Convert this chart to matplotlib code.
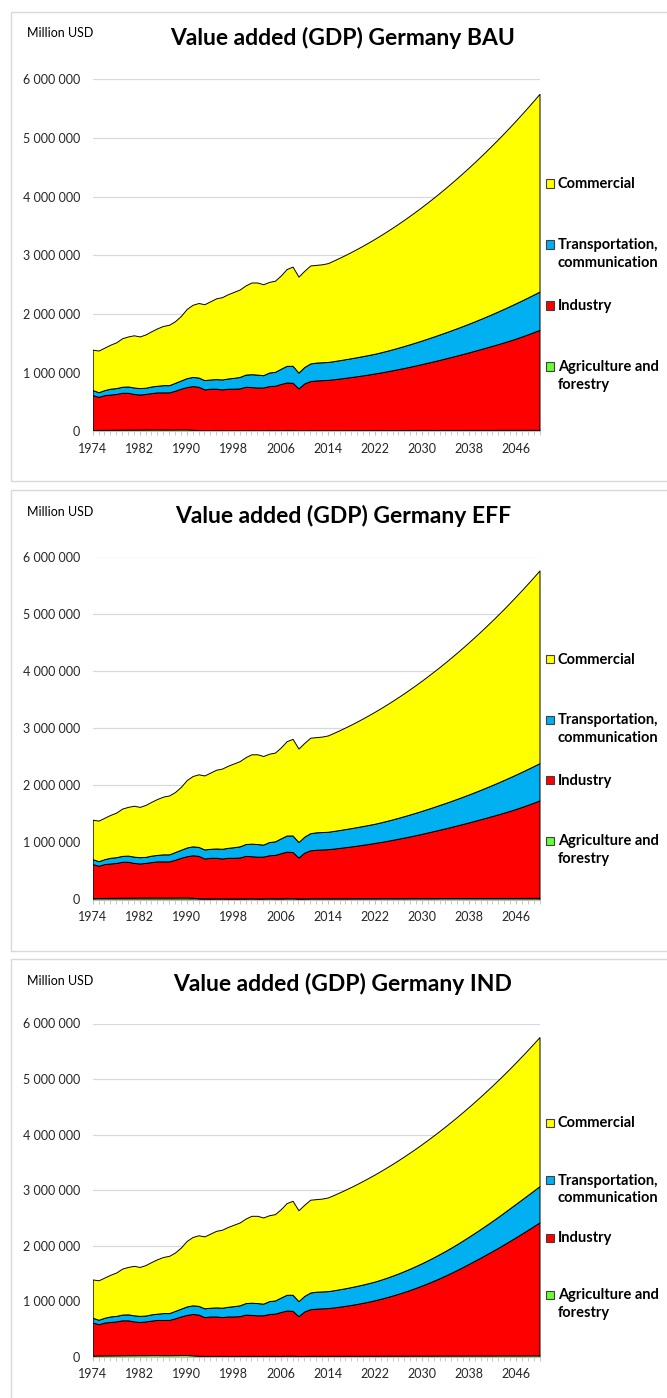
import numpy as np
import matplotlib.pyplot as plt
from matplotlib.patches import Rectangle
from matplotlib.ticker import FuncFormatter, MultipleLocator

plt.rcParams['font.family'] = ['Lato', 'DejaVu Sans']

W, H = 667, 1398
UNIT = 1000  # series below are in billion USD, axis is in million USD

years = list(range(1974, 2051))

# 1974-2014 (historical, same in every scenario)
agri_hist = [25, 27, 28, 29, 30, 31,
             32, 32, 33, 33, 34, 34, 33, 33, 34, 35, 35, 30,
             22, 20, 20, 21, 21, 20, 20, 20, 21, 22, 20, 20, 23, 21, 21, 24,
             24, 19, 20, 22, 22, 22, 22]
industry_hist = [595, 563, 592, 601, 610, 629, 628, 608, 597, 607,
                 621, 633, 634, 634, 661, 695, 722, 744, 741, 697,
                 710, 709, 696, 710, 710, 715, 742, 735, 730, 730,
                 751, 759, 789, 812, 806, 716, 800, 838, 848, 853,
                 858]
transport_hist = [86, 80, 86, 100, 100, 103, 108, 110, 110, 106,
                  113, 113, 123, 123, 135, 140, 153, 156, 157, 159,
                  157, 163, 170, 174, 185, 195, 207, 220, 220, 210,
                  231, 237, 260, 284, 290, 270, 280, 300, 305, 305,
                  305]
commercial_hist = [689, 710, 724, 750, 780, 827, 852, 890, 880, 909,
                   942, 980, 1010, 1030, 1050, 1100, 1180, 1230, 1270, 1294,
                   1333, 1377, 1403, 1436, 1465, 1490, 1520, 1563, 1570, 1550,
                   1545, 1553, 1590, 1650, 1690, 1635, 1640, 1670, 1665, 1670,
                   1685]

# 2015-2050 projections
agri_proj = [22, 22, 22, 23, 23, 23, 23, 23, 24, 24,
             24, 24, 24, 25, 25, 25, 25, 25, 26, 26,
             26, 26, 26, 27, 27, 27, 27, 27, 28, 28,
             28, 28, 28, 29, 29, 29]
transport_proj = [309, 313, 317, 321, 325, 329, 333, 336, 343, 350,
                  358, 366, 375, 384, 393, 402, 412, 422, 433, 443,
                  454, 465, 477, 489, 502, 515, 529, 543, 558, 573,
                  588, 602, 615, 628, 640, 652]
industry_bau_proj = [869, 881, 894, 906, 920, 935, 950, 967, 983, 1001,
                     1020, 1040, 1060, 1080, 1102, 1125, 1148, 1172, 1195, 1220,
                     1245, 1271, 1297, 1323, 1350, 1378, 1406, 1435, 1463, 1493,
                     1524, 1557, 1592, 1627, 1665, 1704]
commercial_bau_proj = [1715, 1746, 1778, 1812, 1847, 1883, 1921, 1960, 1997, 2035,
                       2073, 2112, 2152, 2193, 2235, 2278, 2322, 2367, 2413, 2461,
                       2510, 2560, 2611, 2663, 2716, 2770, 2825, 2881, 2938, 2996,
                       3056, 3117, 3179, 3242, 3306, 3371]
industry_ind_proj = [870, 884, 899, 915, 933, 953, 975, 999, 1024, 1052,
                     1082, 1114, 1148, 1183, 1221, 1261, 1303, 1347, 1392, 1440,
                     1490, 1542, 1596, 1650, 1706, 1763, 1821, 1880, 1939, 2001,
                     2064, 2128, 2193, 2258, 2325, 2393]
commercial_ind_proj = [1714, 1743, 1773, 1803, 1834, 1865, 1896, 1928, 1956, 1984,
                       2011, 2038, 2064, 2090, 2116, 2142, 2167, 2192, 2216, 2241,
                       2265, 2289, 2312, 2336, 2360, 2385, 2410, 2436, 2462, 2488,
                       2516, 2546, 2578, 2611, 2646, 2682]

scenarios = ['BAU', 'EFF', 'IND']
industry_proj = {'BAU': industry_bau_proj, 'EFF': industry_bau_proj, 'IND': industry_ind_proj}
commercial_proj = {'BAU': commercial_bau_proj, 'EFF': commercial_bau_proj, 'IND': commercial_ind_proj}

sectors = ['Agriculture and\nforestry', 'Industry', 'Transportation,\ncommunication', 'Commercial']
colors = ['#66FF33', '#FF0000', '#00B0F0', '#FFFF00']

# pixel layout per panel: frame top/bottom, y of 6 000 000 and 0, legend first row y, legend step
layout = {
    'BAU': dict(ft=11.5, fb=481, ytop=79.5, ybot=431.5, title=38, unit=33, leg=183.5, step=61),
    'EFF': dict(ft=490, fb=951, ytop=556.5, ybot=899.5, title=516, unit=512, leg=659, step=60.5),
    'IND': dict(ft=959, fb=1430, ytop=1023.5, ybot=1357, title=984, unit=981, leg=1122.5, step=57.5),
}
X0, X1 = 92.7, 539.5


def fy(y):
    return 1 - y / H


def space_fmt(v, pos):
    return '{:,}'.format(int(round(v))).replace(',', ' ')


fig = plt.figure(figsize=(W / 100, H / 100), dpi=100)

for sc in scenarios:
    L = layout[sc]
    fig.add_artist(Rectangle((10.5 / W, fy(L['fb'])), 700 / W, (L['fb'] - L['ft']) / H,
                             transform=fig.transFigure, fill=False, ec='#d9d9d9', lw=1))

    ax = fig.add_axes([X0 / W, fy(L['ybot']), (X1 - X0) / W, (L['ybot'] - L['ytop']) / H])
    agri = np.array(agri_hist + agri_proj) * UNIT
    ind = np.array(industry_hist + industry_proj[sc]) * UNIT
    tra = np.array(transport_hist + transport_proj) * UNIT
    com = np.array(commercial_hist + commercial_proj[sc]) * UNIT
    ax.stackplot(years, agri, ind, tra, com, colors=colors,
                 edgecolor='black', linewidth=0.7)

    ax.set_xlim(1974, 2050)
    ax.set_ylim(0, 6e6)
    ax.set_xticks(range(1974, 2050, 8))
    ax.xaxis.set_minor_locator(MultipleLocator(1))
    ax.set_yticks(np.arange(0, 6e6 + 1, 1e6))
    ax.yaxis.set_major_formatter(FuncFormatter(space_fmt))
    ax.tick_params(axis='x', which='both', length=3, color='#bfbfbf', direction='out',
                   labelsize=9, pad=5, labelcolor='#262626')
    ax.tick_params(axis='y', length=0, labelsize=9, pad=9, labelcolor='#262626')
    ax.grid(axis='y', color='#d9d9d9', lw=0.9)
    ax.set_axisbelow(True)
    for s in ['left', 'top', 'right']:
        ax.spines[s].set_visible(False)
    ax.spines['bottom'].set_color('#bfbfbf')
    ax.patch.set_alpha(0)

    fig.text(343 / W, fy(L['title']), 'Value added (GDP) Germany ' + sc,
             ha='center', va='center', fontsize=16.5, fontweight='bold')
    fig.text(27 / W, fy(L['unit']), 'Million USD', ha='left', va='center', fontsize=9)

    # legend, top entry first
    for i, (name, col) in enumerate(zip(sectors[::-1], colors[::-1])):
        y = L['leg'] + i * L['step']
        fig.add_artist(Rectangle((545.5 / W, fy(y + 4)), 8 / W, 8 / H, transform=fig.transFigure,
                                 fc=col, ec='#404040', lw=0.8))
        fig.text(558 / W, fy(y - 6.5), name, ha='left', va='top', fontsize=10.5,
                 fontweight='bold', linespacing=1.35)

fig.savefig('out.png', dpi=100)
